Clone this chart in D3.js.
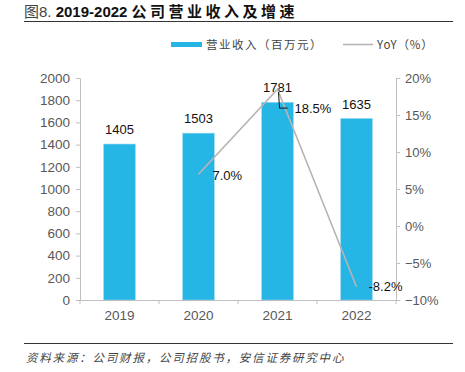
<!DOCTYPE html>
<html>
<head>
<meta charset="utf-8">
<script src="https://cdn.jsdelivr.net/npm/d3@7"></script>
<style>
  body { margin: 0; background: #fff; }
  text { font-family: "Liberation Sans", Arial, "Noto Sans CJK SC", sans-serif; }
</style>
</head>
<body>
<div id="wrapper"></div>
<script>
const years = ["2019", "2020", "2021", "2022"];
const revenue = [1405, 1503, 1781, 1635];
const yoy = [null, 7.0, 18.5, -8.2];
const leftTicks = [0, 200, 400, 600, 800, 1000, 1200, 1400, 1600, 1800, 2000];
const rightTicks = [-10, -5, 0, 5, 10, 15, 20];

function drawChart() {
    //set dimensions
    let dimensions = {
        width: 465,
        height: 372,
        margin: { top: 78, right: 69, bottom: 72, left: 80 }
    };
    dimensions.boundedWidth = dimensions.width - dimensions.margin.left - dimensions.margin.right;
    dimensions.boundedHeight = dimensions.height - dimensions.margin.top - dimensions.margin.bottom;

    const svg = d3.select("#wrapper").append("svg")
        .attr("width", dimensions.width)
        .attr("height", dimensions.height);

    // title + rules
    const title = svg.append("text")
        .attr("x", 24).attr("y", 17)
        .attr("font-size", 15).attr("fill", "#111");
    title.append("tspan").attr("fill", "#444").text("图8. ");
    title.append("tspan").attr("font-weight", "bold").text("2019-2022 ");
    title.append("tspan").attr("font-weight", "bold").attr("letter-spacing", 3.5)
        .style("font-family", "'Noto Sans CJK SC'").text("公司营业收入及增速");
    svg.append("line").attr("x1", 24).attr("x2", 453).attr("y1", 21.5).attr("y2", 21.5)
        .attr("stroke", "#333").attr("stroke-width", 1.2);
    svg.append("line").attr("x1", 24).attr("x2", 453).attr("y1", 343.5).attr("y2", 343.5)
        .attr("stroke", "#333").attr("stroke-width", 1.2);
    svg.append("text")
        .attr("x", 26).attr("y", 362)
        .attr("font-size", 11.5).attr("font-style", "italic").attr("fill", "#444")
        .attr("letter-spacing", 1.8)
        .style("font-family", "'Noto Sans CJK SC'")
        .text("资料来源：公司财报，公司招股书，安信证券研究中心");

    const bounds = svg.append("g")
        .attr("transform", `translate(${dimensions.margin.left},${dimensions.margin.top})`);

    // scales
    const xScale = d3.scaleBand()
        .domain(years)
        .range([0, dimensions.boundedWidth])
        .paddingInner(0.6)
        .paddingOuter(0.3);
    const yScale = d3.scaleLinear()
        .domain([0, 2000])
        .range([dimensions.boundedHeight, 0]);
    const y2Scale = d3.scaleLinear()
        .domain([-10, 20])
        .range([dimensions.boundedHeight, 0]);

    // bars
    bounds.selectAll(".bar")
        .data(revenue)
        .enter().append("rect")
        .attr("class", "bar")
        .attr("x", (d, i) => xScale(years[i]))
        .attr("width", xScale.bandwidth())
        .attr("y", d => yScale(d))
        .attr("height", d => dimensions.boundedHeight - yScale(d))
        .attr("fill", "#26B6E6")
        .attr("stroke", "#8fd6f0")
        .attr("stroke-width", 0.6);

    bounds.selectAll(".bar-label")
        .data(revenue)
        .enter().append("text")
        .attr("x", (d, i) => xScale(years[i]) + xScale.bandwidth() / 2)
        .attr("y", d => yScale(d) - 10)
        .attr("text-anchor", "middle")
        .attr("font-size", 13).attr("fill", "#111")
        .text(d => d);

    // axes
    const leftAxis = bounds.append("g")
        .call(d3.axisLeft(yScale).tickValues(leftTicks).tickFormat(d3.format("d"))
            .tickSize(4).tickSizeOuter(0).tickPadding(6));
    const rightAxis = bounds.append("g")
        .attr("transform", `translate(${dimensions.boundedWidth},0)`)
        .call(d3.axisRight(y2Scale).tickValues(rightTicks).tickSize(4).tickSizeOuter(0).tickPadding(5)
            .tickFormat(d => (d < 0 ? "\u2212" + Math.abs(d) : d) + "%"));
    const xAxis = bounds.append("g")
        .attr("transform", `translate(0,${dimensions.boundedHeight})`)
        .call(d3.axisBottom(xScale).tickSize(0).tickPadding(10));
    // category boundary ticks
    const step = xScale.step();
    bounds.selectAll(".xtick")
        .data(d3.range(years.length + 1))
        .enter().append("line")
        .attr("x1", i => xScale(years[0]) - step * xScale.paddingOuter() + i * step)
        .attr("x2", i => xScale(years[0]) - step * xScale.paddingOuter() + i * step)
        .attr("y1", dimensions.boundedHeight)
        .attr("y2", dimensions.boundedHeight + 4)
        .attr("stroke", "#bfbfbf");

    [leftAxis, rightAxis, xAxis].forEach(a => {
        a.selectAll("path, line").attr("stroke", "#bfbfbf");
        a.selectAll("text").attr("font-size", 13).attr("fill", "#595959")
            .style("font-family", "'Liberation Sans', Arial, sans-serif");
    });
    leftAxis.selectAll("text").attr("font-size", 13.5);
    xAxis.selectAll("text").attr("font-size", 13.5);

    // yoy line
    const lineData = years.map((y, i) => ({ year: y, v: yoy[i] })).filter(d => d.v !== null);
    const lineGenerator = d3.line()
        .x(d => xScale(d.year) + xScale.bandwidth() / 2)
        .y(d => y2Scale(d.v));
    bounds.append("path")
        .datum(lineData)
        .attr("d", lineGenerator)
        .attr("fill", "none")
        .attr("stroke", "#B8B4B4")
        .attr("stroke-width", 1.6);

    // yoy labels
    const cx = d => xScale(d.year) + xScale.bandwidth() / 2;
    const labelOffsets = { "2020": [14, 1], "2021": [17, 19], "2022": [12, 0] };
    bounds.selectAll(".yoy-label")
        .data(lineData)
        .enter().append("text")
        .attr("x", d => cx(d) + labelOffsets[d.year][0])
        .attr("y", d => y2Scale(d.v) + labelOffsets[d.year][1])
        .attr("dy", "0.35em")
        .attr("font-size", 13).attr("fill", "#111")
        .text(d => d.v.toFixed(1) + "%");

    // leader line for 2021 label
    const d21 = lineData.find(d => d.year === "2021");
    const lx = cx(d21), ly = y2Scale(d21.v);
    bounds.append("path")
        .attr("d", `M${lx + 1},${ly + 3} L${lx + 2},${ly + 19} L${lx + 10},${ly + 19}`)
        .attr("fill", "none").attr("stroke", "#111").attr("stroke-width", 1);

    // legend
    const legend = svg.append("g");
    legend.append("rect").attr("x", 171).attr("y", 42).attr("width", 31).attr("height", 5)
        .attr("fill", "#26B6E6");
    legend.append("text").attr("x", 206).attr("y", 44.5).attr("dy", "0.35em")
        .attr("font-size", 11.5).attr("fill", "#444").attr("letter-spacing", 1.5)
        .style("font-family", "'Noto Sans CJK SC'")
        .text("营业收入（百万元）");
    legend.append("line").attr("x1", 343).attr("x2", 373).attr("y1", 44.5).attr("y2", 44.5)
        .attr("stroke", "#B8B4B4").attr("stroke-width", 1.6);
    legend.append("text").attr("x", 377).attr("y", 44.5).attr("dy", "0.35em")
        .attr("font-size", 11.5).attr("fill", "#444").attr("letter-spacing", 0.8)
        .style("font-family", "'Noto Sans CJK SC'")
        .text("YoY（%）");
}

drawChart();
</script>
</body>
</html>
